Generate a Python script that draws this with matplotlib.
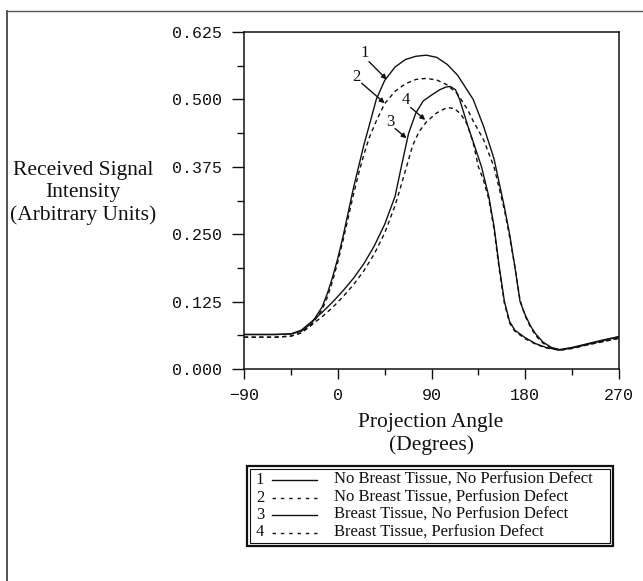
import matplotlib.pyplot as plt
from matplotlib.lines import Line2D
from matplotlib.patches import Rectangle

W, H = 643, 581

# projection angle (deg) and received signal for each curve
angles_1 = [-90, -60, -45, -35, -25, -15, -10, -5, 0, 5, 10, 15, 20, 25, 30, 37, 45, 55, 65, 75,
            85, 95, 105, 115, 125, 130, 140, 150, 160, 165, 170, 175, 180, 185, 190, 197, 205, 213, 225, 240,
            255, 270]
signal_1 = [0.064, 0.064, 0.065, 0.070, 0.085, 0.115, 0.14, 0.17, 0.205, 0.245, 0.29, 0.335, 0.375, 0.415, 0.45, 0.50, 0.535, 0.56, 0.574, 0.580,
            0.582, 0.578, 0.565, 0.545, 0.515, 0.50, 0.45, 0.39, 0.30, 0.25, 0.19, 0.125, 0.10, 0.08, 0.065, 0.05, 0.04, 0.036, 0.040, 0.047,
            0.054, 0.060]

angles_2 = angles_1
signal_2 = [0.059, 0.059, 0.061, 0.067, 0.082, 0.11, 0.133, 0.163, 0.198, 0.238, 0.28, 0.323, 0.362, 0.397, 0.428, 0.46, 0.492, 0.515, 0.529, 0.537,
            0.539, 0.536, 0.527, 0.51, 0.48, 0.46, 0.425, 0.375, 0.295, 0.245, 0.19, 0.128, 0.098, 0.078, 0.062, 0.048, 0.039, 0.035, 0.039, 0.045,
            0.051, 0.057]

angles_3 = [-90, -60, -45, -35, -25, -15, -5, 5, 15, 25, 35, 45, 55, 61, 68, 75, 82, 90, 98, 104,
            108, 113, 117, 125, 132, 138, 145, 150, 155, 160, 165, 170, 180, 190, 200, 213, 225, 240, 255, 270]
signal_3 = [0.064, 0.064, 0.065, 0.072, 0.088, 0.105, 0.124, 0.145, 0.168, 0.195, 0.228, 0.268, 0.32, 0.375, 0.437, 0.475, 0.497, 0.508, 0.518, 0.523,
            0.524, 0.518, 0.50, 0.45, 0.41, 0.375, 0.32, 0.265, 0.19, 0.125, 0.088, 0.072, 0.058, 0.047, 0.04, 0.035, 0.039, 0.046, 0.053, 0.060]

angles_4 = [-90, -60, -45, -35, -25, -15, -5, 5, 15, 25, 35, 45, 55, 60, 66, 72, 78, 85, 95, 105,
            112, 118, 124, 130, 135, 140, 145, 150, 155, 160, 165, 170, 180, 190, 200, 213, 225, 240, 255, 270]
signal_4 = [0.059, 0.059, 0.061, 0.067, 0.082, 0.097, 0.114, 0.134, 0.156, 0.182, 0.213, 0.252, 0.303, 0.335, 0.375, 0.415, 0.44, 0.458, 0.475, 0.485,
            0.483, 0.473, 0.455, 0.42, 0.375, 0.35, 0.315, 0.26, 0.185, 0.122, 0.085, 0.07, 0.056, 0.046, 0.039, 0.035, 0.038, 0.045, 0.051, 0.057]

labels = ["No Breast Tissue, No Perfusion Defect",
          "No Breast Tissue, Perfusion Defect",
          "Breast Tissue, No Perfusion Defect",
          "Breast Tissue, Perfusion Defect"]
numbers = ["1", "2", "3", "4"]

# callout numbers: text position, arrow tail, arrow head (data units)
callouts = {
    "1": ((26, 0.586), (30, 0.570), (47, 0.537)),
    "2": ((18, 0.542), (23, 0.530), (45, 0.493)),
    "3": ((50, 0.459), (55, 0.446), (66, 0.428)),
    "4": ((65.5, 0.499), (70, 0.485), (84, 0.462)),
}

x_ticks = [-90, 0, 90, 180, 270]
y_ticks = [0.0, 0.125, 0.25, 0.375, 0.5, 0.625]

SERIF = "Liberation Serif"
MONO = "Liberation Mono"
INK = "#111111"
SOLID = "-"
DASHED = (0, (3, 2.5))


def px(x, y):
    # pixel position -> figure fraction
    return x / W, 1 - y / H


fig = plt.figure(figsize=(W / 100, H / 100), dpi=100)
ax = fig.add_axes([244 / W, 1 - 369 / H, (619 - 244) / W, (369 - 32) / H])

styles = [SOLID, DASHED, SOLID, DASHED]
series = [(angles_1, signal_1), (angles_2, signal_2), (angles_3, signal_3), (angles_4, signal_4)]
for (a, s), ls in zip(series, styles):
    ax.plot(a, s, color=INK, lw=1.0, linestyle=ls)

for num, (txt, tail, head) in callouts.items():
    ax.text(txt[0], txt[1], num, fontsize=12, family=SERIF, ha="center", va="center", color=INK)
    ax.annotate("", xy=head, xytext=tail,
                arrowprops=dict(arrowstyle="-|>", lw=1.0, color=INK, mutation_scale=7, shrinkA=0, shrinkB=0))

ax.set_xlim(-90, 270)
ax.set_ylim(0, 0.625)
ax.set_xticks(x_ticks)
ax.set_xticks([-45, 45, 135, 225], minor=True)
ax.set_yticks(y_ticks)
ax.set_yticks([0.0625, 0.1875, 0.3125, 0.4375, 0.5625], minor=True)
ax.set_xticklabels([str(t).replace("-", "\u2212") for t in x_ticks], family=MONO, fontsize=12)
ax.set_yticklabels(["%.3f" % t for t in y_ticks], family=MONO, fontsize=12)
ax.tick_params(axis="x", which="major", direction="out", length=7.5, width=1, pad=6, colors=INK)
ax.tick_params(axis="x", which="minor", direction="out", length=4, width=1, colors=INK)
ax.tick_params(axis="y", which="major", direction="out", length=9, width=1, pad=7, colors=INK)
ax.tick_params(axis="y", which="minor", direction="out", length=5, width=1, colors=INK)
for sp in ax.spines.values():
    sp.set_linewidth(1.1)
    sp.set_color(INK)

# axis titles
fig.text(*px(83, 193), "Received Signal\nIntensity\n(Arbitrary Units)", ha="center", va="center",
         family=SERIF, fontsize=15.5, linespacing=1.2, color=INK)
fig.text(*px(431, 434), "Projection Angle\n(Degrees)", ha="center", va="center",
         family=SERIF, fontsize=15.5, linespacing=1.2, color=INK)

# page frame (runs off the right and bottom edges)
fig.add_artist(Line2D([7 / W, 7 / W], [-0.05, 1 - 11 / H], color="#333333", lw=1.2))
fig.add_artist(Line2D([7 / W, 1.05], [1 - 11 / H, 1 - 11 / H], color="#555555", lw=1.0))

# legend box with double border
lx0, ly0, lx1, ly1 = 247, 466, 613, 546
fig.add_artist(Rectangle(px(lx0, ly1), (lx1 - lx0) / W, (ly1 - ly0) / H, fill=False, lw=1.6, ec=INK))
fig.add_artist(Rectangle(px(lx0 + 3, ly1 - 3), (lx1 - lx0 - 6) / W, (ly1 - ly0 - 6) / H, fill=False, lw=0.8, ec=INK))
row_y = [480, 497.5, 515, 532.5]
for num, lab, ls, yy in zip(numbers, labels, styles, row_y):
    fig.text(*px(260, yy), num, ha="center", va="center", family=SERIF, fontsize=12, color=INK)
    fig.add_artist(Line2D([272 / W, 317 / W], [1 - yy / H] * 2, color=INK, lw=1.0,
                          linestyle=ls if ls == SOLID else (0, (2.5, 3.5))))
    fig.text(*px(334, yy), lab, ha="left", va="center", family=SERIF, fontsize=12, color=INK)

fig.savefig("out.png", dpi=100)
